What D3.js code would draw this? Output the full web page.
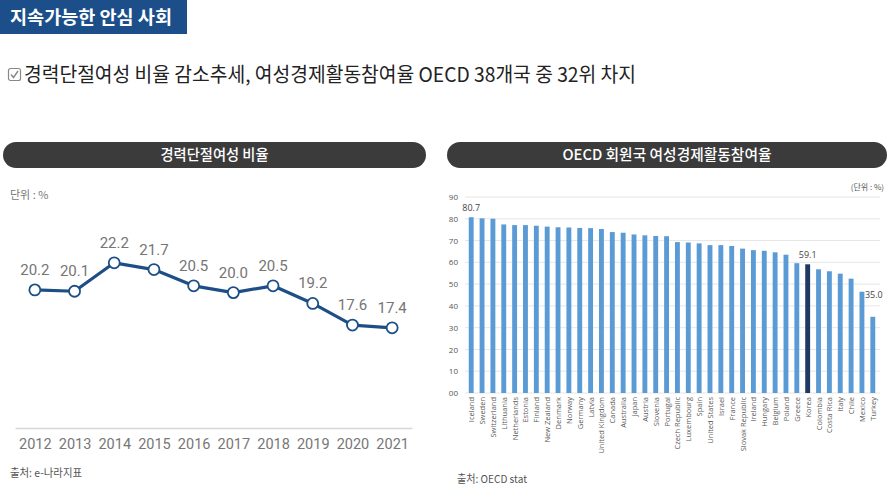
<!DOCTYPE html>
<html><head><meta charset="utf-8">
<script src="https://cdn.jsdelivr.net/npm/d3@7"></script>
<style>
body{margin:0;background:#fff;}
svg{display:block;font-family:"Noto Sans CJK KR","Noto Sans",sans-serif;}
</style></head>
<body>
<svg id="c" width="888" height="491"></svg>
<script>
// ---- data ----
const years = ["2012","2013","2014","2015","2016","2017","2018","2019","2020","2021"];
const careerBreakRate = [20.2, 20.1, 22.2, 21.7, 20.5, 20.0, 20.5, 19.2, 17.6, 17.4];

const countries = ["Iceland","Sweden","Switzerland","Lithuania","Netherlands","Estonia","Finland","New Zealand","Denmark","Norway","Germany","Latvia","United Kingdom","Canada","Australia","Japan","Austria","Slovenia","Portugal","Czech Republic","Luxembourg","Spain","United States","Israel","France","Slovak Republic","Ireland","Hungary","Belgium","Poland","Greece","Korea","Colombia","Costa Rica","Italy","Chile","Mexico","Turkey"];
const femaleLFPR = [80.7, 80.2, 80.0, 77.4, 77.1, 77.1, 76.8, 76.4, 76.1, 76.0, 75.8, 75.7, 75.3, 73.9, 73.6, 72.8, 72.4, 72.1, 72.0, 69.3, 69.1, 68.7, 67.9, 67.9, 67.5, 66.3, 65.6, 65.3, 64.6, 63.5, 59.6, 59.1, 56.8, 55.9, 54.8, 52.5, 46.5, 35.0];
const labeledCountries = ["Iceland","Korea","Turkey"];
const barTicks = [0,10,20,30,40,50,60,70,80,90];
const barTickLabels = ["00","10","20","30","40","50","60","70","80","90"];

const svg = d3.select("#c");

// ---- header ----
svg.append("rect").attr("x",0).attr("y",0).attr("width",187).attr("height",34).attr("fill","#1c4f8a");
svg.append("text").attr("x",10).attr("y",24).attr("fill","#fff").attr("font-size",18).attr("font-weight",700)
  .attr("textLength",162).attr("lengthAdjust","spacingAndGlyphs").text("지속가능한 안심 사회");

// checkbox icon
const cb = svg.append("g").attr("transform","translate(8,68)");
cb.append("rect").attr("x",0.5).attr("y",0.5).attr("width",12).attr("height",12).attr("rx",2).attr("fill","none").attr("stroke","#888").attr("stroke-width",1.2);
cb.append("path").attr("d","M3,6.5 L5.5,9.5 L10,3").attr("fill","none").attr("stroke","#888").attr("stroke-width",1.4);
svg.append("text").attr("x",24).attr("y",82).attr("fill","#222").attr("font-size",20)
  .attr("textLength",612).attr("lengthAdjust","spacingAndGlyphs")
  .text("경력단절여성 비율 감소추세, 여성경제활동참여율 OECD 38개국 중 32위 차지");

// ---- pills ----
function pill(x,w,label,tw){
  svg.append("rect").attr("x",x).attr("y",142).attr("width",w).attr("height",26).attr("rx",13).attr("fill","#3b3b3b");
  svg.append("text").attr("x",x+w/2).attr("y",160).attr("text-anchor","middle").attr("fill","#fff")
    .attr("font-size",15).attr("font-weight",500).attr("textLength",tw).attr("lengthAdjust","spacingAndGlyphs").text(label);
}
pill(3,423,"경력단절여성 비율",108);
pill(447,440,"OECD 회원국 여성경제활동참여율",209);

// ---- left: line chart ----
svg.append("text").attr("x",10).attr("y",199).attr("fill","#777").attr("font-size",11).text("단위 : %");

const xL = d3.scalePoint().domain(years).range([15,412]).padding(0.5);
const yL = d3.scaleLinear().domain([10,25]).range([428,428-15*13.54]);

const gx = svg.append("g").attr("transform","translate(0,428)")
  .call(d3.axisBottom(xL).tickSize(0).tickPadding(0));
gx.select(".domain").attr("stroke","#d6d6d6").attr("stroke-width",1.5);
gx.selectAll("text").attr("font-size",14.5).attr("fill","#777").attr("font-family","Roboto, 'Noto Sans', sans-serif")
  .attr("dy",null).attr("y",21);

const pts = years.map((y,i)=>({y, v:careerBreakRate[i]}));
svg.append("path").datum(pts)
  .attr("d", d3.line().x(d=>xL(d.y)).y(d=>yL(d.v)))
  .attr("fill","none").attr("stroke","#1d4f86").attr("stroke-width",3.2).attr("stroke-linejoin","round");
svg.selectAll(".pt").data(pts).enter().append("circle")
  .attr("cx",d=>xL(d.y)).attr("cy",d=>yL(d.v)).attr("r",5.5)
  .attr("fill","#fff").attr("stroke","#1d4f86").attr("stroke-width",1.8);
svg.selectAll(".lbl").data(pts).enter().append("text")
  .attr("x",d=>xL(d.y)).attr("y",d=>yL(d.v)-15).attr("text-anchor","middle")
  .attr("font-size",15).attr("fill","#757575").attr("font-family","Roboto, 'Noto Sans', sans-serif")
  .text(d=>d.v.toFixed(1));

svg.append("text").attr("x",10).attr("y",477).attr("fill","#555").attr("font-size",11)
  .attr("textLength",72).attr("lengthAdjust","spacingAndGlyphs").text("출처: e-나라지표");

// ---- right: bar chart ----
svg.append("text").attr("x",884).attr("y",190).attr("text-anchor","end").attr("fill","#555").attr("font-size",8).text("(단위 : %)");

const xB = d3.scaleBand().domain(countries).range([465.5,878.5]).paddingInner(0.55).paddingOuter(0.3);
const yB = d3.scaleLinear().domain([0,90]).range([393,197]);

const gy = svg.append("g").attr("transform","translate(465,0)")
  .call(d3.axisLeft(yB).tickValues(barTicks).tickFormat((d,i)=>barTickLabels[i]).tickSize(0).tickPadding(7));
gy.select(".domain").remove();
gy.selectAll("text").attr("font-size",8).attr("fill","#555").attr("font-family","'Open Sans','Noto Sans',sans-serif");

svg.append("g").selectAll("line").data(barTicks).enter().append("line")
  .attr("x1",465).attr("x2",880).attr("y1",d=>yB(d)).attr("y2",d=>yB(d))
  .attr("stroke","#e6e6e6").attr("stroke-width",1);

const bars = countries.map((c,i)=>({c, v:femaleLFPR[i]}));
svg.append("g").selectAll("rect").data(bars).enter().append("rect")
  .attr("x",d=>xB(d.c)).attr("width",xB.bandwidth())
  .attr("y",d=>yB(d.v)).attr("height",d=>yB(0)-yB(d.v))
  .attr("fill",d=>d.c==="Korea"?"#1f3a60":"#5b9bd5");

svg.append("g").selectAll("text").data(bars.filter(d=>labeledCountries.includes(d.c))).enter().append("text")
  .attr("x",d=>xB(d.c)+xB.bandwidth()/2+(d.c==="Turkey"?1:0))
  .attr("y",d=>yB(d.v)-(d.c==="Turkey"?19:6))
  .attr("text-anchor","middle").attr("font-size",9).attr("fill","#444")
  .attr("font-family","'Open Sans','Noto Sans',sans-serif")
  .text(d=>d.v.toFixed(1));

const gxb = svg.append("g").attr("transform","translate(0,397)");
gxb.selectAll("text").data(countries).enter().append("text")
  .attr("transform",d=>`translate(${xB(d)+xB.bandwidth()/2+3},0) rotate(-90)`)
  .attr("text-anchor","end").attr("font-size",7.5).attr("fill","#5a5a5a")
  .attr("font-family","'Open Sans','Noto Sans',sans-serif")
  .text(d=>d);

svg.append("text").attr("x",457).attr("y",483).attr("fill","#555").attr("font-size",11)
  .attr("textLength",70).attr("lengthAdjust","spacingAndGlyphs").text("출처: OECD stat");
</script>
</body></html>
